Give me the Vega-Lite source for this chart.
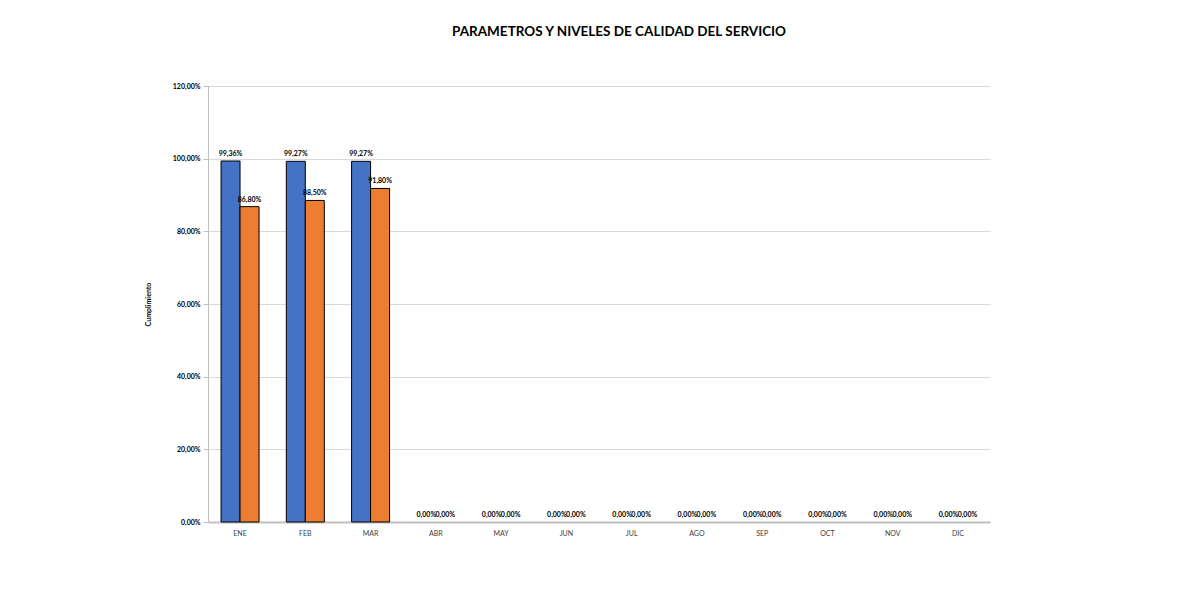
{
  "$schema": "https://vega.github.io/schema/vega-lite/v6.json",
  "autosize": "none",
  "width": 782,
  "height": 436,
  "padding": {"left": 208, "top": 86, "right": 200, "bottom": 85},
  "background": "white",
  "config": {
    "font": "Lato",
    "view": {"stroke": null},
    "locale": {"number": {"decimal": ",", "thousands": ".", "grouping": [3], "currency": ["", " €"]}}
  },
  "title": {
    "text": "PARAMETROS Y NIVELES DE CALIDAD DEL SERVICIO",
    "font": "Lato",
    "fontSize": 13.5,
    "fontWeight": "bold",
    "color": "#000000",
    "anchor": "middle",
    "dx": 20,
    "offset": 44
  },
  "data": {
    "values": [
      {"mes": "ENE", "serie": "Serie1", "valor": 0.9936},
      {"mes": "ENE", "serie": "Serie2", "valor": 0.868},
      {"mes": "FEB", "serie": "Serie1", "valor": 0.9927},
      {"mes": "FEB", "serie": "Serie2", "valor": 0.885},
      {"mes": "MAR", "serie": "Serie1", "valor": 0.9927},
      {"mes": "MAR", "serie": "Serie2", "valor": 0.918},
      {"mes": "ABR", "serie": "Serie1", "valor": 0},
      {"mes": "ABR", "serie": "Serie2", "valor": 0},
      {"mes": "MAY", "serie": "Serie1", "valor": 0},
      {"mes": "MAY", "serie": "Serie2", "valor": 0},
      {"mes": "JUN", "serie": "Serie1", "valor": 0},
      {"mes": "JUN", "serie": "Serie2", "valor": 0},
      {"mes": "JUL", "serie": "Serie1", "valor": 0},
      {"mes": "JUL", "serie": "Serie2", "valor": 0},
      {"mes": "AGO", "serie": "Serie1", "valor": 0},
      {"mes": "AGO", "serie": "Serie2", "valor": 0},
      {"mes": "SEP", "serie": "Serie1", "valor": 0},
      {"mes": "SEP", "serie": "Serie2", "valor": 0},
      {"mes": "OCT", "serie": "Serie1", "valor": 0},
      {"mes": "OCT", "serie": "Serie2", "valor": 0},
      {"mes": "NOV", "serie": "Serie1", "valor": 0},
      {"mes": "NOV", "serie": "Serie2", "valor": 0},
      {"mes": "DIC", "serie": "Serie1", "valor": 0},
      {"mes": "DIC", "serie": "Serie2", "valor": 0}
    ]
  },
  "encoding": {
    "x": {
      "field": "mes",
      "type": "nominal",
      "sort": ["ENE","FEB","MAR","ABR","MAY","JUN","JUL","AGO","SEP","OCT","NOV","DIC"],
      "scale": {"paddingInner": 0.418, "paddingOuter": 0.2},
      "axis": {
        "title": null,
        "labelAngle": 0,
        "labelFont": "Lato",
        "labelFontSize": 7,
        "labelColor": "#404040",
        "labelPadding": 7,
        "ticks": false,
        "domainColor": "#bfbfbf",
        "domainWidth": 2,
        "grid": false
      }
    },
    "xOffset": {"field": "serie", "type": "nominal", "sort": ["Serie1", "Serie2"]},
    "y": {
      "field": "valor",
      "type": "quantitative",
      "scale": {"domain": [0, 1.2], "nice": false},
      "axis": {
        "title": "Cumplimiento",
        "titleFont": "Lato",
        "titleFontSize": 7,
        "titleFontWeight": "bold",
        "titleColor": "#000000",
        "titlePadding": 21,
        "format": ".2%",
        "values": [0, 0.2, 0.4, 0.6, 0.8, 1.0, 1.2],
        "labelFont": "Lato",
        "labelFontSize": 7,
        "labelFontWeight": "bold",
        "labelColor": "#000000",
        "labelPadding": 3,
        "tickSize": 5,
        "tickColor": "#bfbfbf",
        "domainColor": "#bfbfbf",
        "gridColor": "#d9d9d9",
        "gridWidth": 1
      }
    }
  },
  "layer": [
    {
      "mark": {"type": "bar", "stroke": "#000000", "strokeWidth": 1},
      "encoding": {
        "color": {
          "field": "serie",
          "type": "nominal",
          "scale": {"domain": ["Serie1", "Serie2"], "range": ["#4472C4", "#ED7D31"]},
          "legend": null
        },
        "strokeOpacity": {"condition": {"test": "datum.valor == 0", "value": 0}, "value": 1}
      }
    },
    {
      "mark": {"type": "text", "baseline": "bottom", "dy": -4, "fontSize": 7, "fontWeight": "bold", "font": "Lato", "color": "#000000"},
      "encoding": {
        "text": {"field": "valor", "type": "quantitative", "format": ".2%"}
      }
    }
  ]
}
